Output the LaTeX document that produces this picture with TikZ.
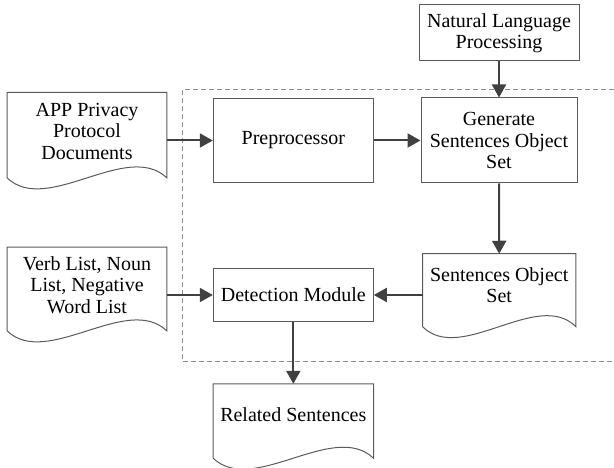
\documentclass[tikz,border=0pt]{standalone}
\usepackage{fontspec}
\setmainfont{Liberation Serif}
\newfontfamily\labelfont{Liberation Serif}
\usetikzlibrary{arrows.meta,calc}
\definecolor{edgegray}{HTML}{5A5A5A}
\definecolor{arrowgray}{HTML}{404040}
\definecolor{dashgray}{HTML}{8C8C8C}
\tikzset{
  boxline/.style={draw=edgegray, line width=1pt},
  procbox/.style={boxline, rectangle, inner sep=0pt, align=center,
    font=\labelfont\fontsize{20}{21.5}\selectfont},
  docarea/.style={rectangle, inner sep=0pt},
  doctext/.style={align=center, inner sep=0pt, font=\labelfont\fontsize{20}{21.5}\selectfont},
  flow/.style={draw=arrowgray, line width=2pt,
    -{Triangle[length=13pt,width=14pt]}},
  groupframe/.style={draw=dashgray, line width=1.1pt, dash pattern=on 5pt off 3pt}
}
% outline of a flowchart "document" symbol with a wavy lower edge
\newcommand{\docoutline}[1]{%
  \draw[boxline] (#1.south west) -- (#1.north west) -- (#1.north east) -- (#1.south east)
    .. controls ($(#1.south west)!0.75!(#1.south east)+(0,-38)$)
       and ($(#1.south west)!0.25!(#1.south east)+(0,38)$) .. (#1.south west);}
\begin{document}
\begin{tikzpicture}[x=1pt,y=-1pt]
\useasboundingbox (0,0) rectangle (614,468);

% dashed group frame (open on the right)
\draw[groupframe] (614,89.5) -- (182.7,89.5) -- (182.7,361.7) -- (614,361.7);

% process boxes
\node[procbox, minimum width=160, minimum height=56] (nlp) at (499,33)
  {Natural Language\\Processing};
\node[procbox, minimum width=156, minimum height=85] (gen) at (499,140.5)
  {Generate\\Sentences Object\\Set};
\node[procbox, minimum width=160, minimum height=84.4] (pre) at (293.3,140.5)
  {Preprocessor};
\node[procbox, minimum width=160, minimum height=53.4] (det) at (293.3,295)
  {Detection Module};

% document symbols
\node[docarea, minimum width=159.4, minimum height=85] (app) at (87,135.2) {};
\docoutline{app}
\node[doctext] (apptext) at (87,131) {APP Privacy\\Protocol\\Documents};

\node[docarea, minimum width=159.4, minimum height=83.4] (verb) at (87,289) {};
\docoutline{verb}
\node[doctext] (verbtext) at (87,285) {Verb List, Noun\\List, Negative\\Word List};

\node[docarea, minimum width=153, minimum height=72.5] (sos) at (499.2,290.2) {};
\docoutline{sos}
\node[doctext] (sostext) at (499.2,285) {Sentences Object\\Set};

\node[docarea, minimum width=160, minimum height=74] (rel) at (293.3,421) {};
\docoutline{rel}
\node[doctext] (reltext) at (293.3,415) {Related Sentences};

% connectors
\draw[flow] (nlp.south) -- (gen.north);
\draw[flow] (app.east |- pre.west) -- (pre.west);
\draw[flow] (pre.east) -- (gen.west);
\draw[flow] (gen.south) -- (sos.north);
\draw[flow] (sos.west |- det.east) -- (det.east);
\draw[flow] (verb.east |- det.west) -- (det.west);
\draw[flow] (det.south) -- (rel.north);
\end{tikzpicture}
\end{document}
